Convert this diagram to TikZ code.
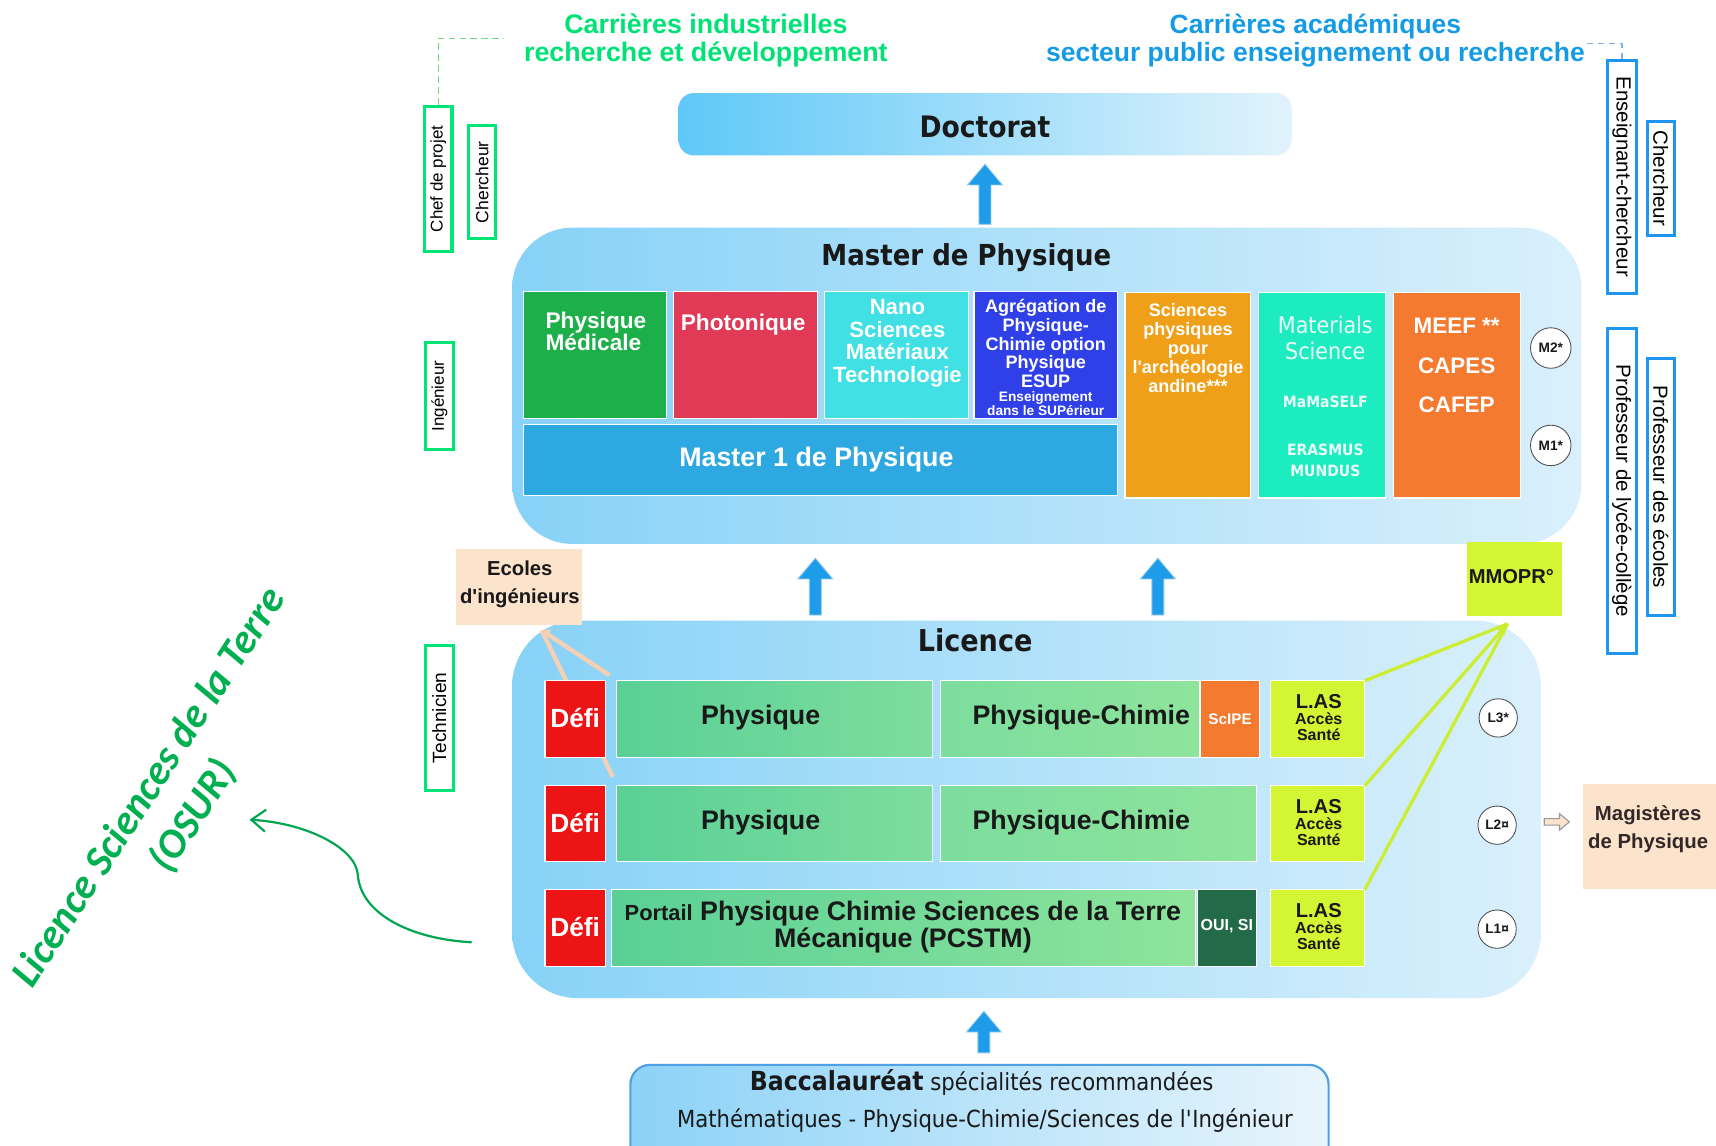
\documentclass[tikz,border=0pt]{standalone}
\usepackage{fontspec}
\setmainfont{Liberation Sans}
\newfontfamily\tah[FakeStretch=0.9]{DejaVu Sans}
\newfontfamily\carl{Carlito}
\usetikzlibrary{arrows.meta}
\pgfdeclarelayer{back}
\pgfdeclarelayer{mid}
\pgfsetlayers{back,mid,main}
\newcommand\myfs[2]{\fontsize{#1}{#2}\selectfont}
\newcommand\apo{\textquotesingle}
\definecolor{gtxt}{RGB}{0,226,118}
\definecolor{btxt}{RGB}{20,155,230}
\definecolor{gbox}{RGB}{0,230,118}
\definecolor{bbox}{RGB}{30,150,240}
\definecolor{pmC}{RGB}{29,176,74}
\definecolor{photoC}{RGB}{224,58,87}
\definecolor{nanoC}{RGB}{64,224,228}
\definecolor{agrC}{RGB}{48,64,232}
\definecolor{m1C}{RGB}{46,168,224}
\definecolor{archC}{RGB}{240,160,24}
\definecolor{matC}{RGB}{28,236,192}
\definecolor{matT}{RGB}{236,252,248}
\definecolor{meefC}{RGB}{244,122,48}
\definecolor{peach}{RGB}{251,227,204}
\definecolor{lime}{RGB}{212,245,51}
\definecolor{limeline}{RGB}{204,238,50}
\definecolor{defiC}{RGB}{236,20,20}
\definecolor{ouiC}{RGB}{35,107,72}
\definecolor{arrC}{RGB}{30,155,233}
\definecolor{arrE}{RGB}{150,205,240}
\definecolor{bgL}{RGB}{135,210,247}
\definecolor{bgM}{RGB}{188,229,250}
\definecolor{bgR}{RGB}{218,240,252}
\definecolor{dL}{RGB}{95,200,248}
\definecolor{dM}{RGB}{165,222,250}
\definecolor{dR}{RGB}{225,243,252}
\definecolor{grA}{RGB}{90,208,150}
\definecolor{grB}{RGB}{125,221,158}
\definecolor{grC}{RGB}{142,228,155}
\definecolor{osur}{RGB}{0,176,80}
\definecolor{osurA}{RGB}{0,166,81}
\definecolor{txt}{RGB}{25,25,25}
\definecolor{peachline}{RGB}{245,208,180}
\definecolor{bacB}{RGB}{80,160,230}
\definecolor{bacL}{RGB}{140,210,247}
\definecolor{bacR}{RGB}{232,245,252}
\definecolor{gdashC}{RGB}{110,215,130}
\definecolor{bdashC}{RGB}{120,180,235}
\definecolor{circB}{RGB}{80,80,80}
\definecolor{magT}{RGB}{50,40,40}
\newcommand\mybox[6]{\node[bxs,#6,minimum width={#4pt-#2pt},minimum height={#5pt-#3pt}] (#1) at ({(#2+#4)/2},{(#3+#5)/2}) {};}
\newcommand\bluparr[3]{\filldraw[barr] (#1,#2) -- ({#1+16},{#2+19}) -- ({#1+5.5},{#2+19}) -- ({#1+5.5},#3) -- ({#1-5.5},#3) -- ({#1-5.5},{#2+19}) -- ({#1-16},{#2+19}) -- cycle;}
\newcommand\lastxt[3]{%
 \node[font=\bfseries\myfs{18.4}{19},text=txt] (#1a) at (#2,{#3-16}) {L.AS};
 \node[font=\bfseries\myfs{14.6}{15},text=txt] (#1b) at (#2,#3) {Accès};
 \node[font=\bfseries\myfs{14.6}{15},text=txt] (#1c) at (#2,{#3+14}) {Santé};}
\begin{document}
\begin{tikzpicture}[x=1pt,y=-1pt,
  bxs/.style={draw=white,line width=1pt,inner sep=0pt,outer sep=0pt},
  wt/.style={text=white},
  rowt/.style={font=\bfseries\myfs{24.5}{25},text=txt},
  barr/.style={fill=arrC,draw=arrE,line width=0.8pt},
  circ/.style={circle,draw=circB,line width=0.8pt,fill=white,minimum size=37pt,inner sep=0pt,font=\bfseries\myfs{12.5}{13},text=txt},
  gside/.style={draw=gbox,line width=2.8pt,fill=white,inner sep=0pt,font=\myfs{15.5}{16}},
  bside/.style={draw=bbox,line width=2.8pt,fill=white,inner sep=0pt,font=\myfs{18.7}{19}},
  gdash/.style={draw=gdashC,dash pattern=on 6pt off 4pt,line width=1.2pt},
  bdash/.style={draw=bdashC,dash pattern=on 6pt off 4pt,line width=1.2pt},
  peachl/.style={draw=peachline,line width=4pt},
  limel/.style={draw=limeline,line width=3pt}]
\useasboundingbox (0,0) rectangle (1568,1047);
\clip (0,0) rectangle (1568,1047);
\begin{pgfonlayer}{back}
\fill[white] (0,0) rectangle (1568,1047);
\end{pgfonlayer}

% headings
\node[font=\bfseries\myfs{24.5}{25},text=gtxt,align=center] (carind) at (645,37) {Carrières industrielles\\recherche et développement};
\node[font=\bfseries\myfs{24.2}{25},text=btxt,align=center] (caraca) at (1202,37) {Carrières académiques\\secteur public enseignement ou recherche};

% side labels
\node[gside,rotate=90,minimum width=133pt,minimum height=25pt] (cdp) at (400.5,163.5) {Chef de projet};
\node[gside,rotate=90,minimum width=103pt,minimum height=25pt,font=\myfs{16}{16}] (cher1) at (440.5,166.5) {Chercheur};
\node[gside,rotate=90,minimum width=98pt,minimum height=25pt] (ing) at (401.5,362) {Ingénieur};
\node[gside,rotate=90,minimum width=132pt,minimum height=25pt,font=\myfs{17.5}{18}] (tech) at (401.5,656) {Technicien};
\node[bside,rotate=-90,minimum width=213pt,minimum height=26pt] (ens) at (1482,161.5) {Enseignant-chercheur};
\node[bside,rotate=-90,minimum width=104pt,minimum height=25pt] (cher2) at (1517.5,163) {Chercheur};
\node[bside,rotate=-90,minimum width=297pt,minimum height=26pt] (plc) at (1482,448.5) {Professeur de lycée-collège};
\node[bside,rotate=-90,minimum width=234pt,minimum height=25pt] (pde) at (1517.5,445) {Professeur des écoles};
\coordinate (gdend) at (460,35);
\coordinate (bdend) at (1450,40);
\draw[gdash] (cdp.east) |- (gdend);
\draw[bdash] (bdend) -| (ens.west);

% Doctorat
\mybox{doct}{620}{85}{1180}{142}{rounded corners=14pt,draw=none,left color=dL,middle color=dM,right color=dR}
\node[font=\tah\bfseries\myfs{27}{30},text=txt] (doctt) at (900,116) {Doctorat};
\bluparr{900}{150}{205}

% Master
\mybox{master}{468}{208}{1445}{497}{rounded corners=55pt,draw=none,left color=bgL,middle color=bgM,right color=bgR}
\node[font=\tah\bfseries\myfs{26.4}{30},text=txt] (mastt) at (883,235) {Master de Physique};
\mybox{pm}{478}{266}{609}{382}{fill=pmC}
\node[wt,font=\bfseries\myfs{20.7}{20.5},align=left,anchor=west] (pmt) at (495,303) {Physique\\Médicale};
\mybox{photo}{615}{266}{747}{382}{fill=photoC}
\node[wt,font=\bfseries\myfs{20.7}{21}] (photot) at (679,297) {Photonique};
\mybox{nano}{753}{266}{885}{382}{fill=nanoC}
\node[wt,font=\bfseries\myfs{20.2}{20.7},align=center] (nanot) at (820,313.5) {Nano\\Sciences\\Matériaux\\Technologie};
\mybox{agr}{890}{266}{1021}{382}{fill=agrC}
\node[wt,font=\bfseries\myfs{16.5}{17},align=center] (agrt1) at (955.5,314) {Agrégation de\\Physique-\\Chimie option\\Physique\\ESUP};
\node[wt,font=\bfseries\myfs{12.5}{13},align=center] (agrt2) at (955.5,368.5) {Enseignement\\dans le SUPérieur};
\mybox{m1}{478}{388}{1021}{453}{fill=m1C}
\node[wt,font=\bfseries\myfs{24.5}{25}] (m1t) at (746,420) {Master 1 de Physique};
\mybox{arch}{1028}{267}{1143}{455}{fill=archC}
\node[wt,font=\bfseries\myfs{16.5}{17.5},align=center] (archt) at (1085.5,318) {Sciences\\physiques\\pour\\l\apo archéologie\\andine***};
\mybox{mat}{1150}{267}{1266}{455}{fill=matC}
\node[text=matT,font=\tah\myfs{21}{24},align=center] (matt1) at (1211,309) {Materials\\Science};
\node[text=matT,font=\tah\bfseries\myfs{14.2}{19}] (matt2) at (1211,367) {MaMaSELF};
\node[text=matT,font=\tah\bfseries\myfs{14.2}{19},align=center] (matt3) at (1211,420.5) {ERASMUS\\MUNDUS};
\mybox{meef}{1273}{267}{1389}{455}{fill=meefC}
\node[wt,font=\bfseries\myfs{20.5}{36},align=center] (meeft) at (1331,334) {MEEF **\\CAPES\\CAFEP};
\node[circ] (m2c) at (1417,318) {M2*};
\node[circ] (m1c) at (1417,407) {M1*};

% between
\mybox{ecoles}{417}{502}{532}{571}{fill=peach,draw=none}
\node[font=\bfseries\myfs{18.5}{25},text=txt,align=center] (ecolest) at (475,534) {Ecoles\\d\apo ingénieurs};
\mybox{mmopr}{1340}{495}{1427}{563}{fill=lime,draw=none}
\node[font=\bfseries\myfs{18.4}{20},text=txt] (mmoprt) at (1381,527) {MMOPR°};
\bluparr{745}{510}{562}
\bluparr{1058}{510}{562}

% Licence
\begin{pgfonlayer}{back}
\mybox{lic}{468}{567}{1408}{912}{rounded corners=60pt,draw=none,left color=bgL,middle color=bgM,right color=bgR}
\end{pgfonlayer}
\node[font=\tah\bfseries\myfs{27.5}{30},text=txt] (lict) at (891,585) {Licence};

% row 1
\mybox{defi1}{498}{622}{553}{692}{fill=defiC}
\node[wt,font=\bfseries\myfs{24}{25}] (defi1t) at (525.5,656) {Défi};
\mybox{phys1}{563}{622}{852}{692}{left color=grA,right color=grB}
\node[rowt] (phys1t) at (695,656) {Physique};
\mybox{pc1}{859}{622}{1096}{692}{left color=grB,right color=grC}
\node[rowt] (pc1t) at (988,656) {Physique-Chimie};
\mybox{scipe}{1097}{622}{1151}{692}{fill=meefC}
\node[wt,font=\bfseries\myfs{14}{15}] (scipet) at (1124,657) {ScIPE};
\mybox{las1}{1161}{622}{1247}{692}{fill=lime}
\lastxt{las1t}{1205}{657}
\node[circ,minimum size=35pt] (l3c) at (1369,656) {L3*};

% row 2
\mybox{defi2}{498}{718}{553}{787}{fill=defiC}
\node[wt,font=\bfseries\myfs{24}{25}] (defi2t) at (525.5,752) {Défi};
\mybox{phys2}{563}{718}{852}{787}{left color=grA,right color=grB}
\node[rowt] (phys2t) at (695,752) {Physique};
\mybox{pc2}{859}{718}{1148}{787}{left color=grB,right color=grC}
\node[rowt] (pc2t) at (988,752) {Physique-Chimie};
\mybox{las2}{1161}{718}{1247}{787}{fill=lime}
\lastxt{las2t}{1205}{753}
\node[circ,minimum size=35pt] (l2c) at (1368,754) {L2¤};

% row 3
\mybox{defi3}{498}{813}{553}{883}{fill=defiC}
\node[wt,font=\bfseries\myfs{24}{25}] (defi3t) at (525.5,847) {Défi};
\mybox{portail}{559}{813}{1092}{883}{left color=grA,right color=grC}
\node[rowt,align=center] (portt) at (825,847) {{\myfs{20}{25}Portail} Physique Chimie Sciences de la Terre\\Mécanique (PCSTM)};
\mybox{oui}{1094}{813}{1148}{883}{fill=ouiC}
\node[wt,font=\bfseries\myfs{14.6}{15}] (ouit) at (1121,846) {OUI, SI};
\mybox{las3}{1161}{813}{1247}{883}{fill=lime}
\lastxt{las3t}{1205}{848}
\node[circ,minimum size=35pt] (l1c) at (1368,849) {L1¤};

% connectors
\coordinate (ectip) at ([shift={(78,5)}]ecoles.south west);
\begin{pgfonlayer}{mid}
\draw[peachl] ([shift={(7,18)}]defi1.south east) -- (ectip);
\end{pgfonlayer}
\draw[peachl,-{Triangle[length=7pt,width=11pt]}] ([shift={(4,-5)}]defi1.north east) -- (ectip);
\coordinate (mmtip) at ([shift={(-6,7)}]mmopr.south);
\draw[limel] (las1.north east) -- (mmtip);
\draw[limel] (las3.north east) -- (mmtip);
\draw[limel,-{Triangle[length=10pt,width=9pt]}] (las2.north east) -- (mmtip);

% Magisteres
\mybox{magi}{1446}{716}{1575}{812}{fill=peach,draw=none}
\node[font=\bfseries\myfs{18.6}{25},text=magT,align=center] (magit) at (1506,757.5) {Magistères\\de Physique};
\filldraw[draw=gray!80,fill=peach,line width=1pt] (1411,748) -- (1425,748) -- (1425,743.5) -- (1434,751) -- (1425,758.5) -- (1425,754) -- (1411,754) -- cycle;

% Bac
\bluparr{899}{924}{962}
\mybox{bac}{576}{973}{1214}{1075}{rounded corners=18pt,draw=bacB,line width=2pt,left color=bacL,right color=bacR}
\node[font=\tah\myfs{21.5}{25},text=txt] (bact1) at (897,989) {{\bfseries\myfs{24}{30}Baccalauréat} spécialités recommandées};
\node[font=\tah\myfs{21.5}{25},text=txt] (bact2) at (900,1023.5) {Mathématiques - Physique-Chimie/Sciences de l\apo Ingénieur};

% OSUR
\node[font=\carl\bfseries\itshape\myfs{38}{48},text=osur,align=center,rotate=57] (osurt) at (157,733) {Licence Sciences de la Terre\\(OSUR)};
\coordinate (curvS) at (431,861);
\coordinate (osurtip) at (228,749);
\draw[osurA,line width=2pt,-{Straight Barb[length=13pt,width=20pt,line width=2pt]}] (curvS) .. controls (375,858) and (330,835) .. (327,800) .. controls (326,775) and (280,752) .. (osurtip);
\end{tikzpicture}
\end{document}
